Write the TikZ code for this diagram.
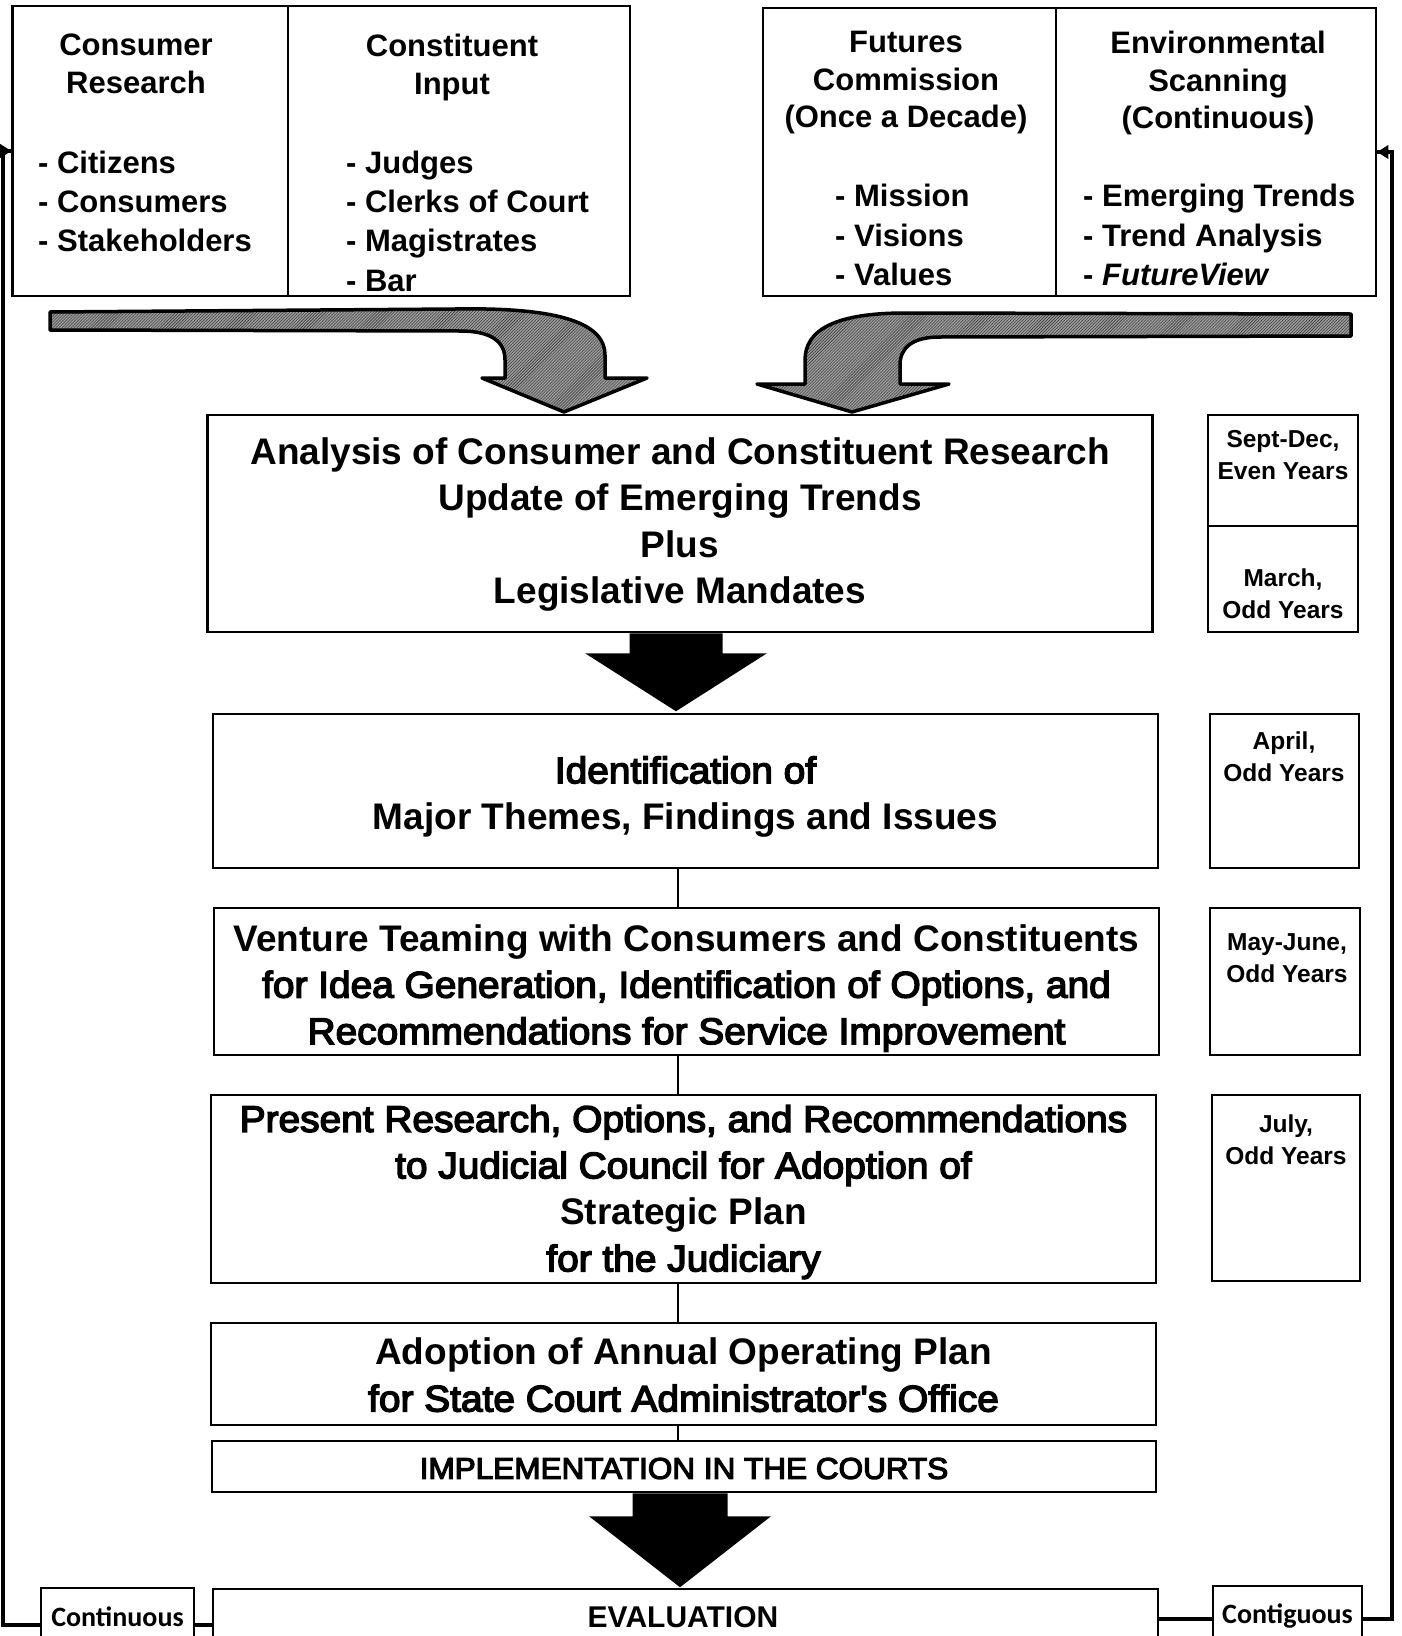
\documentclass[tikz,border=0pt]{standalone}
\usepackage{fontspec}
\setmainfont{Liberation Sans}
\newfontfamily\medfam[FakeBold=4,FakeStretch=1.05]{Liberation Sans}
\newcommand\medw{\medfam\mdseries}
\newfontfamily\calf{Carlito}
\usetikzlibrary{calc,arrows.meta,patterns}
\begin{document}
\begin{tikzpicture}[x=1bp,y=-1bp,
  frame/.style={draw, line width=2.5bp, inner sep=0pt},
  maintext/.style={inner sep=0pt, align=center, font=\bfseries\fontsize{37bp}{46.5bp}\selectfont},
  headtext/.style={inner sep=0pt, align=center, font=\bfseries\fontsize{31bp}{38bp}\selectfont},
  bullets/.style={inner sep=0pt, align=left, anchor=west, font=\bfseries\fontsize{31bp}{39.3bp}\selectfont},
  sidetext/.style={inner sep=0pt, align=center, font=\bfseries\fontsize{24.5bp}{32bp}\selectfont},
  conttext/.style={inner sep=0pt, font=\calf\bfseries\fontsize{28bp}{30bp}\selectfont},
  conn/.style={line width=2.5bp},
  loopline/.style={line width=4bp},
  fatarrow/.style={draw=black, line width=3.5bp, fill=black!40, line join=round},
  fathatch/.style={pattern=north east lines, pattern color=black!80},
  blackarrow/.style={fill=black}
]
\fill[white] (0,0) rectangle (1402,1636);
\useasboundingbox (0,0) rectangle (1402,1636);

% ---------- top boxes ----------
\node[frame, minimum width=275.5bp, minimum height=290bp] (tl1) at (150.25,151) {};
\node[frame, minimum width=342bp, minimum height=290bp] (tl2) at (459,151) {};
\node[frame, minimum width=293bp, minimum height=288bp] (tr1) at (909.5,152) {};
\node[frame, minimum width=320bp, minimum height=288bp] (tr2) at (1216,152) {};

\node[headtext] (tl1h) at (136,64) {Consumer\\Research};
\node[headtext] (tl2h) at (452,67) {Constituent\\Input};
\node[bullets] (tl1b) at (38,201.5) {- Citizens\\- Consumers\\- Stakeholders};
\node[bullets] (tl2b) at (346,221) {- Judges\\- Clerks of Court\\- Magistrates\\- Bar};

\node[headtext, font=\bfseries\fontsize{31bp}{37.5bp}\selectfont] (tr1h) at (906,83) {Futures\\Commission\\(Once a Decade)};
\node[headtext, font=\bfseries\fontsize{31bp}{37.5bp}\selectfont] (tr2h) at (1218,83) {Environmental\\Scanning\\(Continuous)};
\node[bullets] (tr1b) at (835,235) {- Mission\\- Visions\\- Values};
\node[bullets] (tr2b) at (1083,235) {- Emerging Trends\\- Trend Analysis\\- \textit{FutureView}};

% ---------- fat curved arrows ----------
\def\leftfat{(50,312) -- (455,309) .. controls (565,307) and (605,325) .. (605,355)
  -- (605,378) -- (647,378) -- (564,412) -- (482,378) -- (505,378) -- (505,360)
  .. controls (505,342) and (492,331) .. (460,331) -- (50,330) -- cycle}
\def\rightfat{(1351,314) -- (905,313) .. controls (835,313) and (805,330) .. (805,360)
  -- (805,384) -- (757,384) -- (852,412) -- (949,384) -- (900,384) -- (900,365)
  .. controls (900,348) and (912,337) .. (940,337) -- (1351,336) -- cycle}
\fill[black!40] \leftfat;
\fill[fathatch] \leftfat;
\draw[fatarrow, fill=none] \leftfat;
\fill[black!40] \rightfat;
\fill[fathatch] \rightfat;
\draw[fatarrow, fill=none] \rightfat;

% ---------- main boxes ----------
\node[frame, minimum width=945bp, minimum height=217bp] (b1) at (680,523.5) {};
\node[maintext] (b1t) at (680,524.5)
  {Analysis of Consumer and Constituent Research\\Update of Emerging Trends\\Plus\\Legislative Mandates};
\node[frame, minimum width=945bp, minimum height=154bp] (b2) at (685.5,791) {};
\node[maintext] (b2t) at (685.5,797)
  {{\medw Identification of}\\Major Themes, Findings and Issues};
\node[frame, minimum width=945bp, minimum height=147bp] (b3) at (686.5,981.5) {};
\node[maintext] (b3t) at (686.5,988)
  {Venture Teaming with Consumers and Constituents\\{\medw for Idea Generation, Identification of Options, and}\\{\medw Recommendations for Service Improvement}};
\node[frame, minimum width=945bp, minimum height=188bp] (b4) at (683.5,1189) {};
\node[maintext] (b4t) at (683.5,1192)
  {{\medw Present Research, Options, and Recommendations}\\{\medw to Judicial Council for Adoption of}\\Strategic Plan\\{\medw for the Judiciary}};
\node[frame, minimum width=945bp, minimum height=102bp] (b5) at (683.5,1374) {};
\node[maintext] (b5t) at (683.5,1375)
  {Adoption of Annual Operating Plan\\{\medw for State Court Administrator's Office}};
\node[frame, minimum width=944bp, minimum height=51bp] (b6) at (684,1466.5) {};
\node[inner sep=0pt, font=\medw\fontsize{30bp}{34bp}\selectfont] (b6t) at (684,1468.5)
  {IMPLEMENTATION IN THE COURTS};
\node[frame, minimum width=945bp, minimum height=80bp] (b7) at (685.5,1629) {};
\node[inner sep=0pt, font=\bfseries\fontsize{30bp}{34bp}\selectfont] (b7t) at (683,1617) {EVALUATION};

% ---------- side boxes ----------
\node[frame, minimum width=150bp, minimum height=111bp] (s1a) at (1283,470.5) {};
\node[frame, minimum width=150bp, minimum height=106bp] (s1b) at (1283,579) {};
\node[frame, minimum width=149bp, minimum height=154bp] (s2) at (1284.5,791) {};
\node[frame, minimum width=150bp, minimum height=147bp] (s3) at (1285,981.5) {};
\node[frame, minimum width=148bp, minimum height=186bp] (s4) at (1286,1188) {};
\node[sidetext] (s1at) at (1283,455) {Sept-Dec,\\Even Years};
\node[sidetext] (s1bt) at (1283,594) {March,\\Odd Years};
\node[sidetext] (s2t) at (1284,757) {April,\\Odd Years};
\node[sidetext] (s3t) at (1287,958) {May-June,\\Odd Years};
\node[sidetext] (s4t) at (1286,1139.5) {July,\\Odd Years};

% ---------- connectors ----------
\coordinate (ax) at (678,0);
\draw[conn] (b2.south -| ax) -- (b3.north -| ax);
\draw[conn] (b3.south -| ax) -- (b4.north -| ax);
\draw[conn] (b4.south -| ax) -- (b5.north -| ax);
\draw[conn] (b5.south -| ax) -- (b6.north -| ax);

\coordinate (ax1) at (676,0);
\begin{scope}[shift={(b1.south -| ax1)}]
  \fill[blackarrow] (-46.5,0) -- (46.5,0) -- (46.5,20) -- (91,20) -- (0,78) -- (-91,20) -- (-46.5,20) -- cycle;
\end{scope}
\coordinate (ax2) at (680,0);
\begin{scope}[shift={(b6.south -| ax2)}]
  \fill[blackarrow] (-47.5,0) -- (47.5,0) -- (47.5,23) -- (91,23) -- (0,94) -- (-91,23) -- (-47.5,23) -- cycle;
\end{scope}

% ---------- continuous loops ----------
\node[frame, minimum width=153bp, minimum height=74bp] (cL) at (117.5,1625) {};
\node[conttext] (cLt) at (117.5,1617) {Continuous};
\node[frame, minimum width=149bp, minimum height=66bp] (cR) at (1287.5,1619) {};
\node[conttext] (cRt) at (1287.5,1616) {Contiguous};

\draw[loopline] (cL.east) -- (cL.east -| b7.west);
\draw[loopline] (b7.east |- cR.west) -- (cR.west);
\draw[loopline] (cL.west) -| ([xshift=-8.5bp]tl1.west) -- (tl1.west);
\fill (tl1.west) -- ++(-11,-7) -- ++(0,14) -- cycle;
\draw[loopline] (cR.east) -| ([xshift=15bp]tr2.east) -- (tr2.east);
\fill (tr2.east) -- ++(11,-7) -- ++(0,14) -- cycle;
\end{tikzpicture}
\end{document}
